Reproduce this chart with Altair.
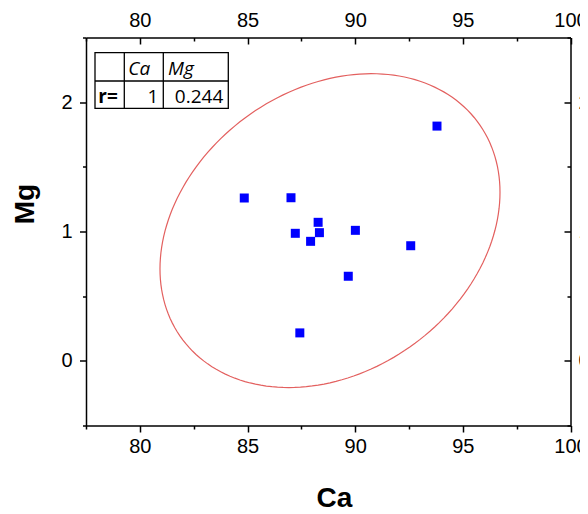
import altair as alt
import numpy as np
import pandas as pd

# ---- data ----
ca = [93.80, 84.85, 87.02, 88.28, 87.22, 88.34, 87.93, 90.01, 92.58, 89.68, 87.43]
mg = [1.815, 1.259, 1.261, 1.071, 0.986, 0.991, 0.924, 1.009, 0.890, 0.654, 0.216]
r_table = 0.244            # correlation shown in the table
f_95_2_9 = 4.2565          # F(0.95; 2, n-2) for n = 11
x_ticks = [77.5, 80, 82.5, 85, 87.5, 90, 92.5, 95, 97.5, 100]
y_ticks = [-0.5, 0, 0.5, 1, 1.5, 2, 2.5]

df = pd.DataFrame({"Ca": ca, "Mg": mg})

# ---- 95% confidence ellipse from the data ----
n = len(ca)
mx, my = np.mean(ca), np.mean(mg)
sx, sy = np.std(ca, ddof=1), np.std(mg, ddof=1)
k = np.sqrt(2 * (n - 1) / (n - 2) * f_95_2_9)
t = np.linspace(0, 2 * np.pi, 181)
ex = mx + k * sx * np.cos(t)
ey = my + k * sy * (r_table * np.cos(t) + np.sqrt(1 - r_table ** 2) * np.sin(t))
edf = pd.DataFrame({"Ca": ex, "Mg": ey, "i": np.arange(len(t))})

xs = alt.Scale(domain=[77.5, 100], nice=False, zero=False)
ys = alt.Scale(domain=[-0.5, 2.5], nice=False, zero=False)

AX = dict(grid=False, domainColor="black", tickColor="black", domainWidth=1.5,
          tickWidth=1.5, labelFont="Liberation Sans", labelFontSize=20,
          labelColor="black", labelFlush=False, labelOverlap=False)
TITLE = dict(titleFont="Liberation Sans", titleFontSize=28, titleFontWeight="bold",
             titleColor="black")

xlab = "datum.value % 5 === 0 ? format(datum.value, 'd') : ''"
ylab = "datum.value % 1 === 0 ? format(datum.value, 'd') : ''"
out_x = {"condition": {"test": "datum.value % 5 === 0", "value": 6.5}, "value": 3.5}
out_y = {"condition": {"test": "datum.value % 1 === 0", "value": 6.5}, "value": 3.5}
in_x = {"condition": {"test": "datum.value % 5 === 0", "value": -6.5}, "value": -3.5}
in_y = {"condition": {"test": "datum.value % 1 === 0", "value": -6.5}, "value": -3.5}

bottom_axis = alt.Axis(orient="bottom", values=x_ticks, labelExpr=xlab, tickSize=out_x,
                       labelPadding=4.5, title="Ca", titleX=248, titleY=80.5,
                       titleBaseline="alphabetic", titleAlign="center", **AX, **TITLE)
left_axis = alt.Axis(orient="left", values=y_ticks, labelExpr=ylab, tickSize=out_y,
                     labelPadding=7.5, title="Mg", titleX=-53, titleY=166, titleAngle=270,
                     titleBaseline="alphabetic", titleAlign="center", **AX, **TITLE)
top_axis = alt.Axis(orient="top", values=x_ticks, labelExpr=xlab, tickSize=in_x,
                    labelPadding=13.8, title=None, **AX)
right_axis = alt.Axis(orient="right", values=y_ticks, labelExpr=ylab, tickSize=in_y,
                      labelPadding=14, title=None, **AX)

ellipse = alt.Chart(edf).mark_line(color="#E3605F", strokeWidth=1.2).encode(
    x=alt.X("Ca:Q", scale=xs, axis=None),
    y=alt.Y("Mg:Q", scale=ys, axis=None),
    order="i:Q",
)

points = alt.Chart(df).mark_square(size=81, color="#0000FF", opacity=1).encode(
    x=alt.X("Ca:Q", scale=xs, axis=bottom_axis),
    y=alt.Y("Mg:Q", scale=ys, axis=left_axis),
)

mirror = alt.Chart(df).mark_square(size=1, opacity=0).encode(
    x=alt.X("Ca:Q", scale=xs, axis=top_axis),
    y=alt.Y("Mg:Q", scale=ys, axis=right_axis),
)

# ---- correlation table (annotation) ----
one = pd.DataFrame({"k": [0]})
TL, TC1, TC2, TR = 9, 38.3, 77.3, 142.3
TT, TM, TB = 15.2, 43.5, 70.8

box = alt.Chart(one).mark_rect(fill="white", stroke="black", strokeWidth=1.3).encode(
    x=alt.value(TL), x2=alt.value(TR), y=alt.value(TT), y2=alt.value(TB))
v1 = alt.Chart(one).mark_rule(color="black", strokeWidth=1.3).encode(
    x=alt.value(TC1), y=alt.value(TT), y2=alt.value(TB))
v2 = alt.Chart(one).mark_rule(color="black", strokeWidth=1.3).encode(
    x=alt.value(TC2), y=alt.value(TT), y2=alt.value(TB))
h1 = alt.Chart(one).mark_rule(color="black", strokeWidth=1.3).encode(
    x=alt.value(TL), x2=alt.value(TR), y=alt.value(TM))

TF = dict(font="Open Sans", fontSize=19, color="black", baseline="alphabetic")


def txt(s, x, y, align, **kw):
    return alt.Chart(one).mark_text(align=align, **TF, **kw).encode(
        x=alt.value(x), y=alt.value(y), text=alt.value(s))


texts = [
    txt("Ca", 42.3, 37.5, "left", fontStyle="italic"),
    txt("Mg", 82, 37.5, "left", fontStyle="italic"),
    txt("r=", 12.3, 65.8, "left", fontWeight="bold"),
    txt("1", 72.3, 65.8, "right"),
    txt(str(r_table), 137.3, 65.8, "right"),
]

chart = alt.layer(ellipse, points, mirror, box, v1, v2, h1, *texts).resolve_axis(
    x="independent", y="independent"
).properties(
    width=484.5, height=388,
    padding={"left": 78, "top": 29.5, "right": 9.5, "bottom": 88},
    autosize="none",
).configure_view(stroke=None)

chart.save("out.html", embed_options={"renderer": "svg", "actions": False})
